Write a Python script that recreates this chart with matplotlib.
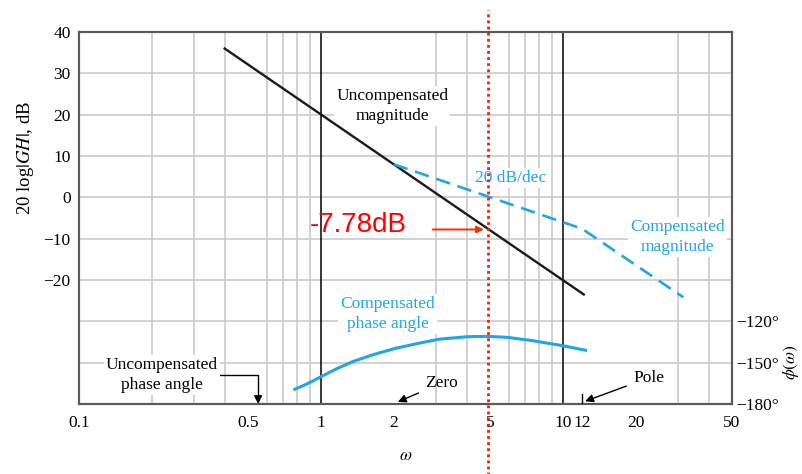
import numpy as np
import matplotlib
matplotlib.use("Agg")
import matplotlib.pyplot as plt

# ── Data ────────────────────────────────────────────────────────────────────
# Uncompensated magnitude (dB), -40 dB/dec straight line
UNCOMP_W = [0.4, 12.2]
UNCOMP_DB = [36.0, -23.5]

# Compensated magnitude asymptotes: zero at 2, pole at 12
COMP_W = [2.0, 12.0, 31.5]
COMP_DB = [8.0, -7.6, -24.2]

# Compensated phase angle (degrees)
PHASE_W = [0.78, 0.87, 1.0, 1.15, 1.35, 1.63, 2.03, 2.54, 3.07,
           4.0, 4.85, 5.86, 7.53, 10.0, 12.4]
PHASE_DEG = [-169.3, -165.7, -160.2, -154.8, -149.3, -144.4, -139.6, -135.9,
             -133.0, -131.2, -130.9, -131.6, -134.1, -137.7, -141.0]

OMEGA_MARK = 4.9
GAIN_MARK_DB = -7.78
ZERO_W = 2.0
POLE_W = 12.0

X_TICKS = [0.1, 0.5, 1, 2, 5, 10, 12, 20, 50]
X_TICK_LABELS = ["0.1", "0.5", "1", "2", "5", "10", "12", "20", "50"]
X_GRID = [0.2, 0.3, 0.4, 0.5, 0.6, 0.7, 0.8, 0.9,
          2, 3, 4, 5, 6, 7, 8, 9, 20, 30, 40]
DB_GRID = [-40, -30, -20, -10, 0, 10, 20, 30, 40]
DB_LABELS = ["", "", "\u221220", "\u221210", "0", "10", "20", "30", "40"]
PHASE_TICKS = [-180, -150, -120]
PHASE_LABELS = ["\u2212180\u00b0", "\u2212150\u00b0", "\u2212120\u00b0"]

# ── Style ───────────────────────────────────────────────────────────────────
BLUE = "#1ea7e4"
GRID = "#c9c9c9"
SPINE = "#5a5a5a"
FS = 12.5

plt.rcParams.update({
    "font.family": ["Liberation Serif", "DejaVu Serif"],
    "mathtext.fontset": "stix",
    "font.size": FS,
})

fig = plt.figure(figsize=(8.02, 4.74), dpi=100)
ax = fig.add_axes([0.0985, 0.1477, 0.8142, 0.7848])
ax.set_xscale("log")
ax.set_xlim(0.1, 50)
ax.set_ylim(-50, 40)
ax.set_axisbelow(True)

ax.set_xticks(X_TICKS)
ax.set_xticklabels(X_TICK_LABELS)
ax.set_xticks(X_GRID, minor=True)
ax.set_xticklabels([], minor=True)
ax.set_yticks(DB_GRID)
ax.set_yticklabels(DB_LABELS)
ax.tick_params(axis="both", which="both", length=0)
ax.tick_params(axis="x", pad=8)
ax.tick_params(axis="y", pad=6)
ax.grid(True, which="minor", axis="x", color=GRID, lw=1.2)
ax.grid(True, which="major", axis="y", color=GRID, lw=1.2)
for w in (1, 10):
    ax.axvline(w, color="black", lw=1.1, zorder=1)
for s in ax.spines.values():
    s.set_color(SPINE)
    s.set_linewidth(1.5)

# magnitude curves
ax.plot(UNCOMP_W, UNCOMP_DB, color="#1a1a1a", lw=1.7, zorder=3)
ax.plot(COMP_W, COMP_DB, color=BLUE, lw=1.9, dashes=(5.5, 3), zorder=3)

# labels sit on white patches above the grid, below the curves
box = dict(facecolor="white", edgecolor="none", pad=1.5)
ax.text(1.97, 22.1, "Uncompensated\nmagnitude", ha="center", va="center",
        linespacing=1.35, bbox=box, zorder=2.5)
ax.text(6.05, 4.7, "20 dB/dec", ha="center", va="center", color=BLUE,
        bbox=box, zorder=2.5)
ax.text(29.7, -9.6, "Compensated\nmagnitude", ha="center", va="center",
        color=BLUE, linespacing=1.35, bbox=box, zorder=2.5)

ax.text(1.43, -6.7, "-7.78dB", ha="center", va="center", color="red",
        fontsize=20, family=["Liberation Sans", "DejaVu Sans"], zorder=4)
ax.annotate("", xy=(OMEGA_MARK, GAIN_MARK_DB), xytext=(2.9, GAIN_MARK_DB),
            arrowprops=dict(arrowstyle="-|>", color="#ff2a00", lw=1.4,
                            mutation_scale=10, shrinkA=0, shrinkB=3),
            zorder=5)

ax.set_xlabel(r"$\omega$", labelpad=12)
fig.text(25 / 802, 1 - 158 / 474, r"20 log$|GH|$, dB", rotation=90,
         ha="center", va="center", fontsize=13.5)

# phase axis on the right
ax2 = ax.twinx()
ax2.set_ylim(-180, 90)
ax2.set_yticks(PHASE_TICKS)
ax2.set_yticklabels(PHASE_LABELS)
ax2.tick_params(axis="y", length=0, pad=3)
for s in ax2.spines.values():
    s.set_color(SPINE)
    s.set_linewidth(1.5)
fig.text(791 / 802, 1 - 362 / 474, r"$\phi(\omega)$", rotation=90,
         ha="center", va="center")

ax2.plot(PHASE_W, PHASE_DEG, color=BLUE, lw=2.2, zorder=3)
ax2.text(1.89, -114.7, "Compensated\nphase angle", ha="center", va="center",
         color=BLUE, linespacing=1.35, bbox=box, zorder=2.5)

ax2.annotate("Uncompensated\nphase angle", xy=(0.55, -180),
             xytext=(0.22, -158.9), ha="center", va="center",
             linespacing=1.35, bbox=box, zorder=4,
             arrowprops=dict(arrowstyle="-|>", color="black", lw=1,
                             mutation_scale=12, shrinkA=0, shrinkB=0,
                             connectionstyle="angle,angleA=0,angleB=90,rad=0"))

ax2.annotate("Zero", xy=(ZERO_W * 1.04, -178.5), xytext=(3.15, -164.8),
             ha="center", va="center", zorder=4,
             arrowprops=dict(arrowstyle="-|>", color="black", lw=1,
                             mutation_scale=12, shrinkA=3, shrinkB=0))
ax2.annotate("Pole", xy=(POLE_W * 1.03, -178), xytext=(22.6, -161.1),
             ha="center", va="center", zorder=4,
             arrowprops=dict(arrowstyle="-|>", color="black", lw=1,
                             mutation_scale=12, shrinkA=3, shrinkB=0))
ax2.plot([POLE_W, POLE_W], [-180, -172.7], color="black", lw=1, zorder=4)

# dotted marker through the -7.78 dB crossing, running past the frame
ax2.axvline(OMEGA_MARK, ymin=-0.19, ymax=1.06, color="#ff1a00", lw=2,
            ls=(0, (1, 1.2)), clip_on=False, zorder=6)

fig.savefig("out.png", dpi=100)
